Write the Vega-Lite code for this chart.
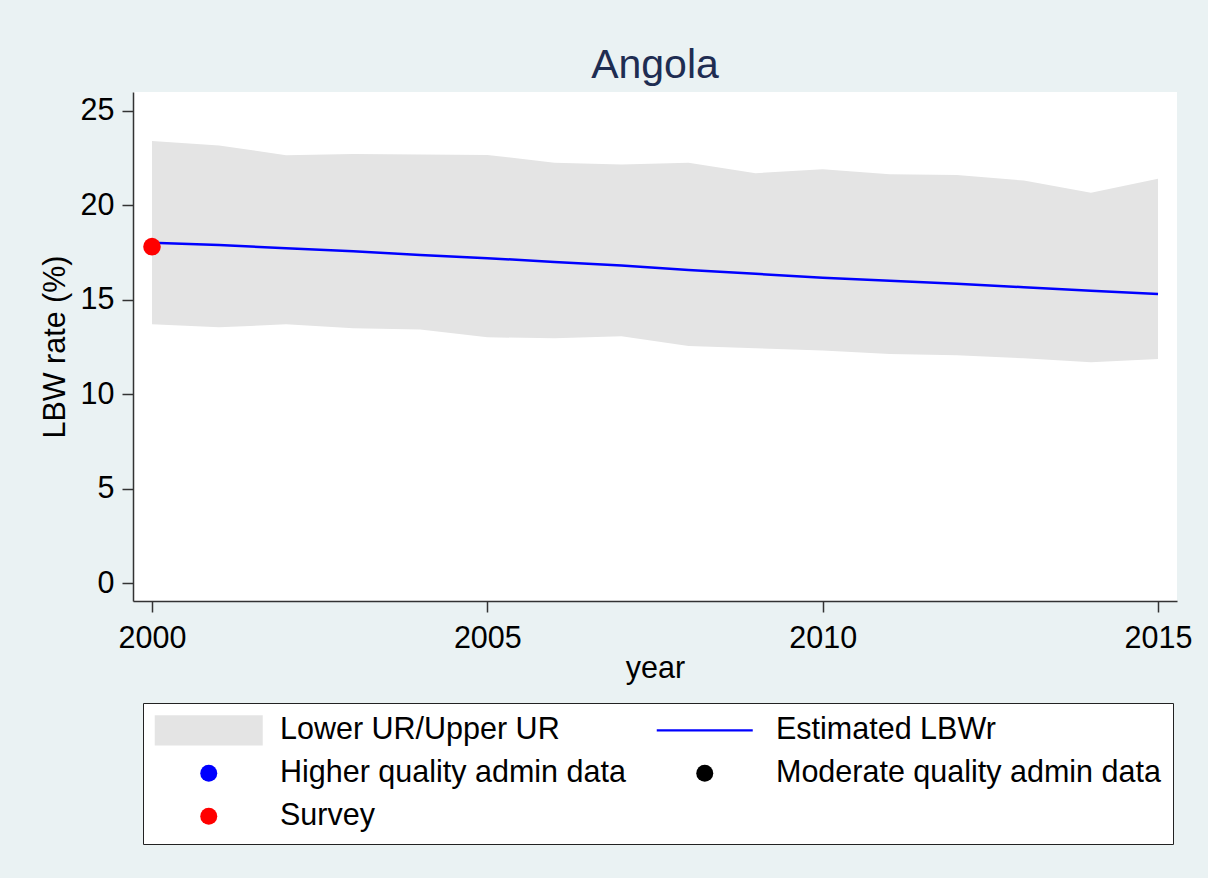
{
  "$schema": "https://vega.github.io/schema/vega-lite/v6.json",
  "autosize": "none",
  "width": 1044,
  "height": 509,
  "padding": {"left": 133, "top": 92, "right": 31, "bottom": 277},
  "background": "#EAF2F3",
  "config": {
    "view": {"fill": "white", "stroke": null},
    "font": "Liberation Sans",
    "axis": {
      "grid": false,
      "domainColor": "#333333",
      "domainWidth": 1.5,
      "tickColor": "#333333",
      "tickWidth": 1.5,
      "tickSize": 11,
      "labelFont": "Liberation Sans",
      "labelFontSize": 30.5,
      "labelColor": "black",
      "titleFont": "Liberation Sans",
      "titleFontSize": 30.5,
      "titleFontWeight": "normal",
      "titleColor": "black"
    }
  },
  "title": {
    "text": "Angola",
    "font": "Liberation Sans",
    "fontSize": 41,
    "fontWeight": "normal",
    "color": "#1E2D52",
    "frame": "group",
    "offset": 5
  },
  "datasets": {
    "band": [
      {"year": 2000, "lower": 13.70, "upper": 23.41, "estimate": 18.02},
      {"year": 2001, "lower": 13.54, "upper": 23.17, "estimate": 17.90},
      {"year": 2002, "lower": 13.70, "upper": 22.65, "estimate": 17.73},
      {"year": 2003, "lower": 13.49, "upper": 22.72, "estimate": 17.57},
      {"year": 2004, "lower": 13.42, "upper": 22.69, "estimate": 17.37},
      {"year": 2005, "lower": 13.01, "upper": 22.67, "estimate": 17.20},
      {"year": 2006, "lower": 12.96, "upper": 22.25, "estimate": 17.00},
      {"year": 2007, "lower": 13.06, "upper": 22.16, "estimate": 16.81},
      {"year": 2008, "lower": 12.55, "upper": 22.25, "estimate": 16.58},
      {"year": 2009, "lower": 12.43, "upper": 21.70, "estimate": 16.37},
      {"year": 2010, "lower": 12.31, "upper": 21.91, "estimate": 16.17},
      {"year": 2011, "lower": 12.13, "upper": 21.64, "estimate": 16.00},
      {"year": 2012, "lower": 12.06, "upper": 21.61, "estimate": 15.84},
      {"year": 2013, "lower": 11.90, "upper": 21.31, "estimate": 15.66},
      {"year": 2014, "lower": 11.69, "upper": 20.67, "estimate": 15.48},
      {"year": 2015, "lower": 11.86, "upper": 21.40, "estimate": 15.31}
    ],
    "obs": [
      {"year": 2000, "value": 17.81, "series": "Survey"}
    ]
  },
  "layer": [
    {
      "data": {"name": "band"},
      "mark": {"type": "area", "color": "#E4E4E4", "opacity": 1},
      "encoding": {
        "x": {
          "field": "year", "type": "quantitative",
          "scale": {"domain": [1999.717, 2015.283], "nice": false, "zero": false},
          "axis": {"values": [2000, 2005, 2010, 2015], "format": "d", "title": "year", "labelPadding": 11, "titlePadding": 0}
        },
        "y": {
          "field": "lower", "type": "quantitative",
          "scale": {"domain": [-0.953, 26.0], "nice": false, "zero": false},
          "axis": {"values": [0, 5, 10, 15, 20, 25], "title": "LBW rate (%)", "labelPadding": 8, "titlePadding": 10}
        },
        "y2": {"field": "upper"}
      }
    },
    {
      "data": {"name": "band"},
      "mark": {"type": "line", "color": "#0000FF", "strokeWidth": 2.5},
      "encoding": {
        "x": {"field": "year", "type": "quantitative"},
        "y": {"field": "estimate", "type": "quantitative"}
      }
    },
    {
      "data": {"name": "obs"},
      "mark": {"type": "point", "filled": true, "opacity": 1, "size": 310, "strokeWidth": 0},
      "encoding": {
        "x": {"field": "year", "type": "quantitative"},
        "y": {"field": "value", "type": "quantitative"},
        "color": {
          "field": "series", "type": "nominal",
          "scale": {
            "domain": ["Lower UR/Upper UR", "Higher quality admin data", "Survey", "Estimated LBWr", "Moderate quality admin data"],
            "range": ["#E4E4E4", "#0000FF", "#FF0000", "#0000FF", "#000000"]
          },
          "legend": {
            "title": null,
            "orient": "none",
            "legendX": 10,
            "legendY": 611,
            "columns": 2,
            "columnPadding": 25,
            "rowPadding": 12,
            "padding": 12,
            "strokeColor": "#222222",
            "fillColor": "white",
            "symbolSize": 289,
            "symbolOffset": 38.5,
            "symbolStrokeWidth": 0,
            "symbolOpacity": 1,
            "labelOffset": 56,
            "labelFont": "Liberation Sans",
            "labelFontSize": 30.5,
            "labelColor": "black",
            "labelLimit": 600
          }
        },
        "shape": {
          "field": "series", "type": "nominal",
          "scale": {
            "domain": ["Lower UR/Upper UR", "Higher quality admin data", "Survey", "Estimated LBWr", "Moderate quality admin data"],
            "range": ["M-6.353,-1.765H6.353V1.765H-6.353Z", "circle", "circle", "M-5.647,-0.118H5.647V0.118H-5.647Z", "circle"]
          },
          "legend": {
            "title": null,
            "orient": "none",
            "legendX": 10,
            "legendY": 611,
            "columns": 2,
            "columnPadding": 25,
            "rowPadding": 12,
            "padding": 12,
            "strokeColor": "#222222",
            "fillColor": "white",
            "symbolSize": 289,
            "symbolOffset": 38.5,
            "symbolStrokeWidth": 0,
            "symbolOpacity": 1,
            "labelOffset": 56,
            "labelFont": "Liberation Sans",
            "labelFontSize": 30.5,
            "labelColor": "black",
            "labelLimit": 600
          }
        }
      }
    }
  ]
}
